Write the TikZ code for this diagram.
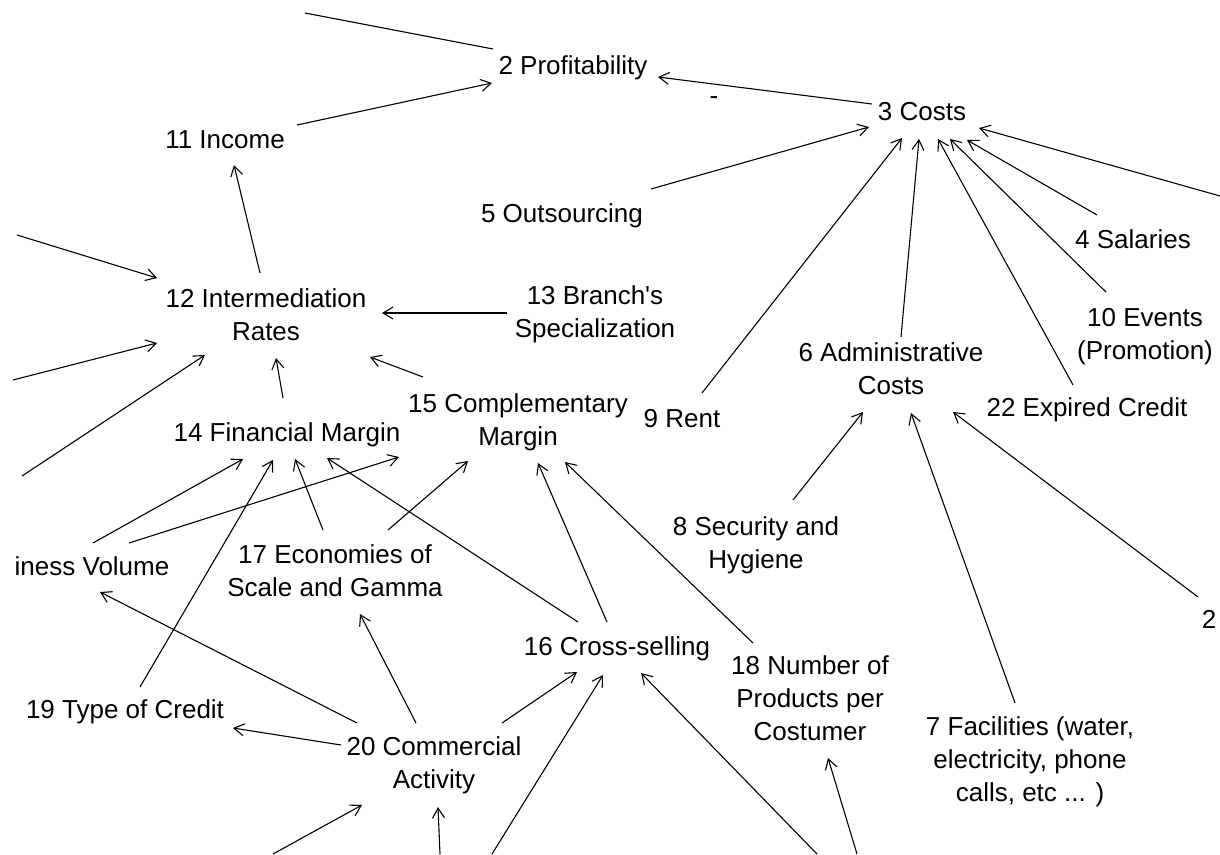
\documentclass[tikz,border=0pt]{standalone}
\usepackage{fontspec}
\setmainfont{Liberation Sans}[Ligatures={TeXOff,CommonOff}]
\usetikzlibrary{arrows.meta}
\newcommand\nb[3]{\expandafter\def\csname nbx@#1\endcsname{#2}\expandafter\def\csname nby@#1\endcsname{#3}}
\newcommand\bx[1]{\csname nbx@#1\endcsname}
\newcommand\by[1]{\csname nby@#1\endcsname}
\newcommand\E[6]{\draw[conn] ([shift={({#2-\bx{#1}},{#3-\by{#1}})}]#1.base) -- ([shift={({#5-\bx{#4}},{#6-\by{#4}})}]#4.base);}
\newcommand\Ec[4]{\draw[conn] (#1) -- ([shift={({#3-\bx{#2}},{#4-\by{#2}})}]#2.base);}
% #3 = baseline of the last line of the label
\newcommand\N[4]{\nb{#1}{#2}{#3}\node[lbl] (#1) at (#2,#3) {#4};}
\begin{document}
\begin{tikzpicture}[x=1pt,y=-1pt,
  lbl/.style={anchor=base,inner sep=0pt,align=center,text=black,font=\fontsize{26}{33}\selectfont},
  conn/.style={draw=black,line width=1.1pt,-{Straight Barb[length=10pt,width=12pt]}},
  plain/.style={draw=black,line width=1.1pt}]
\fill[white] (0,0) rectangle (1220,854);
\useasboundingbox (0,0) rectangle (1220,854);
% nodes
\N{n2}{573}{74}{2 Profitability}
\N{n3}{922}{120}{3 Costs}
\N{n11}{225}{148}{11 Income}
\N{n5}{562}{222}{5 Outsourcing}
\N{n4}{1133}{248}{4 Salaries}
\N{n12}{266}{340}{12 Intermediation\\Rates}
\N{n13}{595}{337}{13 Branch's\\Specialization}
\N{n10}{1145}{359}{10 Events\\(Promotion)}
\N{n6}{891}{394}{6 Administrative\\Costs}
\N{n9}{682}{427}{9 Rent}
\N{n22}{1087}{416}{22 Expired Credit}
\N{n15}{518}{445}{15 Complementary\\Margin}
\N{n14}{287}{441}{14 Financial Margin}
\N{n8}{756}{568}{8 Security and\\Hygiene}
\N{n21}{92}{575}{iness Volume}
\N{n17}{335}{596}{17 Economies of\\Scale and Gamma}
\N{n16}{617}{655}{16 Cross-selling}
\N{n18}{810}{740}{18 Number of\\Products per\\Costumer}
\N{n19}{125}{718}{19 Type of Credit}
\N{n20}{434}{788}{20 Commercial\\Activity}
\N{n7}{1030}{801}{7 Facilities (water,\\electricity, phone\\calls, etc ... )}
\N{n23}{1209}{628}{2}
\node[lbl] (minus) at (714,104) {-};
% free ends
\coordinate (c1) at (305,13);
\coordinate (c2) at (1220,196);
\coordinate (c3) at (17,235);
\coordinate (c4) at (13,380);
\coordinate (c5) at (22,476);
\coordinate (c6) at (273,854);
\coordinate (c7) at (440,854);
\coordinate (c8) at (492,854);
\coordinate (c9) at (817,854);
\coordinate (c10) at (857,854);
% connectors
\draw[plain] ([shift={({493-\bx{n2}},{49-\by{n2}})}]n2.base) -- (c1);
\E{n11}{297}{125}{n2}{492}{83}
\E{n3}{872}{104}{n2}{658}{77}
\E{n5}{651}{189}{n3}{869}{127}
\E{n9}{702}{393}{n3}{902}{138}
\E{n6}{901}{337}{n3}{919}{139}
\E{n22}{1073}{385}{n3}{938}{139}
\E{n10}{1106}{292}{n3}{950}{139}
\E{n4}{1097}{215}{n3}{967}{140}
\Ec{c2}{n3}{979}{128}
\E{n12}{260}{273}{n11}{234}{165}
\Ec{c3}{n12}{157}{278}
\Ec{c4}{n12}{157}{343}
\Ec{c5}{n12}{205}{355}
\E{n13}{507}{313}{n12}{382}{313}
\E{n15}{423}{377}{n12}{370}{357}
\E{n14}{283}{398}{n12}{276}{358}
\E{n21}{93}{543}{n14}{243}{459}
\E{n21}{129}{543}{n15}{399}{457}
\E{n19}{140}{687}{n14}{273}{460}
\E{n17}{323}{530}{n14}{295}{459}
\E{n16}{578}{622}{n14}{327}{458}
\E{n17}{388}{530}{n15}{468}{461}
\E{n16}{607}{622}{n15}{538}{463}
\E{n18}{753}{643}{n15}{565}{462}
\E{n20}{357}{723}{n21}{100}{592}
\E{n20}{416}{723}{n17}{360}{614}
\E{n20}{341}{745}{n19}{233}{728}
\E{n20}{502}{723}{n16}{577}{672}
\Ec{c6}{n20}{362}{805}
\Ec{c7}{n20}{438}{807}
\Ec{c8}{n16}{603}{675}
\Ec{c9}{n16}{641}{673}
\Ec{c10}{n18}{828}{758}
\E{n8}{793}{500}{n6}{863}{412}
\E{n7}{1015}{703}{n6}{911}{413}
\E{n23}{1198}{597}{n6}{953}{412}
\end{tikzpicture}
\end{document}
